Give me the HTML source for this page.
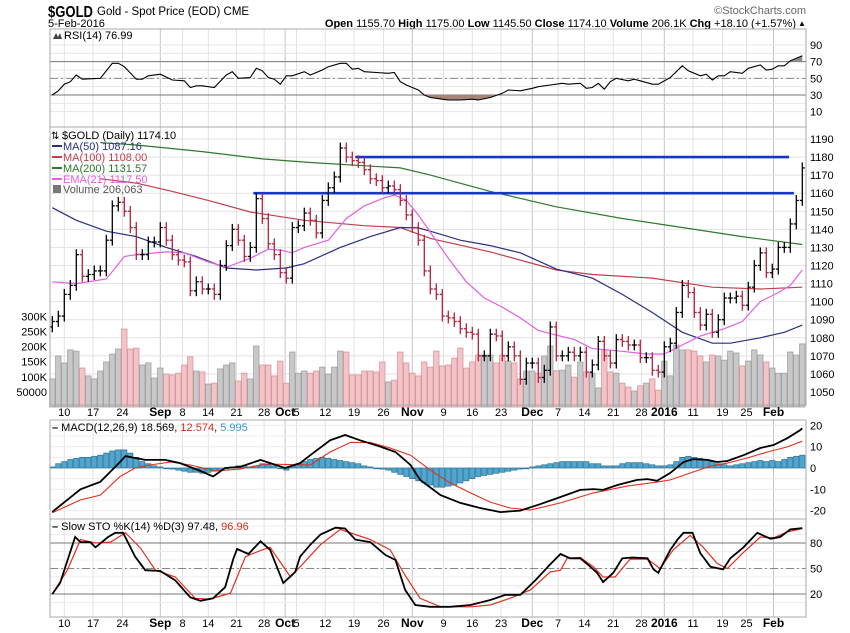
<!DOCTYPE html>
<html><head><meta charset="utf-8"><style>
body{margin:0;background:#fff;}
svg{display:block;font-family:"Liberation Sans",sans-serif;}
</style></head><body>
<svg id="chart" width="850" height="633" viewBox="0 0 850 633" xmlns="http://www.w3.org/2000/svg">
<text x="48" y="17" font-size="16" font-weight="bold" textLength="45" lengthAdjust="spacingAndGlyphs">$GOLD</text>
<text x="97" y="15" font-size="11.5">Gold - Spot Price (EOD)  CME</text>
<text x="48" y="27" font-size="11">5-Feb-2016</text>
<text x="806" y="14" font-size="11" fill="#666" text-anchor="end">©StockCharts.com</text>
<text x="796" y="27" font-size="11" text-anchor="end"><tspan font-weight="bold">Open</tspan> 1155.70 <tspan font-weight="bold">High</tspan> 1175.00 <tspan font-weight="bold">Low</tspan> 1145.50 <tspan font-weight="bold">Close</tspan> 1174.10 <tspan font-weight="bold">Volume</tspan> 206.1K <tspan font-weight="bold">Chg</tspan> +18.10 (+1.57%)</text>
<text x="798" y="26" font-size="8">▲</text>
<g id="g"></g>
</svg>
<script>
const closes=[1089,1092,1104,1109,1126,1114,1115,1117,1117,1134,1153,1155,1150,1141,1126,1126,1133,1133,1141,1134,1126,1123,1122,1106,1111,1107,1107,1104,1120,1131,1140,1134,1125,1130,1157,1146,1132,1126,1116,1113,1141,1142,1149,
1145,1138,1156,1163,1169,1185,1180,1178,1177,1173,1168,1167,1163,1164,1162,1156,1148,1141,1134,1117,1107,1104,1092,1091,1089,1085,1083,1082,1070,1070,1082,1081,1070,1075,1070,1057,1066,1066,1058,1062,1086,1070,
1070,1072,1070,1072,1061,1065,1078,1070,1066,1079,1078,1076,1076,1069,1069,1062,1061,1075,1077,1094,1109,1105,1094,1087,1093,1083,1090,1102,1102,1103,1098,1108,1120,1127,1116,1118,1130,1130,1143,1156,1174];
const volumes=[93,169,146,189,185,129,103,93,119,149,175,192,258,192,195,139,146,96,129,109,106,112,139,166,119,116,76,79,126,139,146,86,112,93,202,139,139,103,152,79,182,112,119,112,119,132,109,132,185,182,106,106,119,119,116,149,83,89,182,146,112,103,149,
132,185,136,139,162,195,129,149,172,172,172,146,172,152,146,93,119,119,112,169,202,120,
122,139,99,149,116,112,63,189,116,112,79,66,53,70,79,93,56,152,103,205,189,189,185,169,149,172,169,155,185,179,136,152,189,172,149,129,112,112,182,172,209];
const ma50Bars=[0,4,9,14,19,24,29,34,39,42,48,53,58,61,63,68,73,78,84,90,95,100,105,110,113,118,122,125];
const ma50Vals=[1152,1145,1139,1136,1130,1125,1118.6,1117.5,1118.6,1121,1130,1136,1141,1140.8,1139,1134,1131,1127,1118,1113,1104,1094,1083,1077,1077,1080,1083,1087];
const ma100Bars=[8,14,20,26,33,42,52,58,63,73,84,90,100,110,118,125];
const ma100Vals=[1168,1165.6,1161,1156,1149.6,1145,1142,1141,1135,1127.5,1117.5,1115,1113,1108,1107,1108];
const ma200Bars=[8,14,25,35,43,58,63,73,84,95,105,115,125];
const ma200Vals=[1188,1186.7,1183,1179,1177,1174,1170,1161,1152.5,1146,1141,1136,1131.6];
const emaBars=[0,4,9,12,14,19,22,26,29,33,36,38,40,42,46,49,52,55,57,59,61,63,66,69,72,75,78,81,84,87,90,95,99,102,105,108,112,115,118,121,123,125];
const emaVals=[1111,1110,1112.5,1125,1126,1127.5,1127,1122,1119,1124,1129,1128.5,1127,1130,1134,1146,1153,1157,1159,1156,1148,1138.5,1124,1111,1102,1097,1091,1084,1081.5,1079,1074,1072.5,1071,1071,1076,1081,1085,1089,1100,1105,1109,1117.5];
const resistLevels=[1180,1160];
const resistStart=[50.5,33.5];
const resistEnd=[122.8,123.6];
const rsiBars=[0,1,2,3,4,5,8,10,11,12,14,15,16,18,20,22,23,24,25,27,29,30,31,33,34,35,36,37,38,39,40,42,43,45,46,48,49,50,51,52,56,57,58,59,61,62,63,65,66,68,70,71,73,75,76,78,80,81,83,85,86,88,89,90,91,92,93,94,96,97,98,100,101,103,105,106,108,109,110,111,112,113,115,116,118,119,120,121,122,123,125];
const rsiVals=[30,35,43,46,54,49,50,68,68,64,49,49,53,55,48,47,39,41,41,39,54,58,50,51,62,59,51,49,43,53,53,58,54,60,64,68,68,61,62,58,56,57,46,42,36,30,27,25,24,24,25,24,27,32,36,35,38,40,42,44,43,44,38,39,44,37,46,50,47,49,47,43,43,51,65,59,53,55,48,53,53,58,56,62,66,60,61,65,65,71,77];
const macdBars=[0,4.7,8,10.8,12.2,13.8,15.5,18.8,21.3,24.7,26.8,28.8,31.3,34.7,38.8,41.3,43,46.3,48.8,51.3,54.7,57.2,59.7,61.3,64.7,68,71.3,74.7,78,81.3,84.7,88,90.2,91.8,94.2,97.5,99.2,100.8,103,105.2,106.8,109.2,110.8,112.5,115.2,118,120.2,122.5,124.5,125];
const macdVals=[-20.6,-10,-6.5,1.4,5.6,4.7,3.8,3.8,2.3,-1.4,-4,0,0.5,3.8,0,2.3,6,13,15.5,13,10,7.5,1.4,-5.6,-12.7,-16.4,-18.8,-20.7,-20,-17,-13.6,-10.3,-9.9,-10.3,-8,-5.6,-5.2,-6,-2.3,2.8,4.2,3.8,2.8,3.3,6,9.4,10.8,14,17.5,18.6];
const signalBars=[0,4.7,8,11.3,13.8,16.3,19.7,23,27.2,31.3,35.5,41.3,43,46.3,49.7,53,56.3,59.7,63,66.3,69.7,73,76.3,79.7,84.7,90.2,95.8,100.8,103,106.8,109.7,112.5,115.8,119.2,122.5,125];
const signalVals=[-21,-15,-12.7,-4,0,1.4,2.8,1.4,-1.4,-0.5,1.9,1.5,1.4,7.5,12,12,9.4,6,-1,-7,-11.7,-16,-18.8,-19.7,-16.4,-11.7,-8.5,-6.6,-5.6,-1.9,0.9,2.3,4.7,7.5,9.9,12.6];
const histVals=[0.5,2,3,4,4.5,5,5,5.5,6,7,8,8.5,8.5,7,5,3,2,1,0.5,0,-0.5,-1,-1.5,-2,-2,-2.5,-2,-1.5,-1,0,0.5,1,1,0.5,1,2,1.5,1,0,-1,1,2,3,4,4.5,5,4.5,4,3.5,3,2.5,2,1,0.5,0,-0.5,-1,-2,-3,-4,-5,-6,-7,-8,-9,-9,-8.5,-8,-7,-6,-5,-4,-3.5,-3,-2.5,-2,-1.5,-1,-0.5,0,0.5,1,1.5,2,2.5,3,3,3,3,3,2,2,1,1,1,2,2.5,2.5,2.5,2,1.5,1,1,1.5,3,5,5.5,5,4.5,4,3,2,1.5,1,1.5,2,2.5,3,3.5,3,3.5,3,4,5,5.5,6];
const kBars=[0,1.3,3.8,4.7,6.3,7.2,9.3,10.5,11.8,13.8,15.5,18,20.5,23,24.7,26.8,28.8,30.2,30.8,32.7,34.7,36.3,38.5,40.5,41.3,43,44.7,47.2,48.8,50.5,53,55.5,57.2,58.8,60.5,63,66.3,69.7,73,75.5,78,80.5,83,84.7,86.3,88,89.7,90.8,91.8,93.5,95,96.7,99.2,100.2,101,103,104.2,105.2,106.7,108,109.7,111.8,113,115.2,117.5,119.7,121.3,123,125];
const kVals=[20,33,87,81,81,75,87,92,92,64,48,47,36,16,12,15,28,62,73,67,82,72,33,46,64,78,90,98,97,84,81,66,60,25,7,5,5,7,13,19,19,36,55,67,62,62,52,45,34,45,62,63,62,49,45,72,84,92,92,68,52,49,62,75,92,85,87,96,97.5];
const dBars=[0,2.5,4.7,7.2,9.7,12.2,14.7,17.2,20.5,23.8,26.3,29.7,32.2,35,36.3,39.7,41.3,44.7,48,50.5,53,56.3,58.8,61.3,64.7,69.7,73,76.3,79.7,83,84.7,85.8,88,90.2,91.8,93.8,96.3,99.2,101.3,103.5,106.3,108.5,110.8,112.5,115.2,118,120.2,122.5,125];
const dVals=[20,48,84,80,81,92,74,48,40,15,14,21,64,72,75,40,52,78,96,90,84,72,42,15,5,5,7,15,25,46,48,62,63,52,40,40,61,61,50,72,89,75,56,50,69,87,86,93,97];
const dateLabels=["10","17","24","Sep","8","14","21","28","Oct","5","12","19","26","Nov","9","16","23","Dec","7","14","21","28","2016","11","19","25","Feb"];
const dateBars=[2,6.8,11.7,18,21.7,26,30.7,35.3,38.8,40.7,45.5,50.3,55.2,60,65.2,70,74.8,80,84.3,88.7,93.5,98.2,102,106.8,111.7,115.7,120.2];
const priceTicks=[1190,1180,1170,1160,1150,1140,1130,1120,1110,1100,1090,1080,1070,1060,1050];
const volTicks=[300,250,200,150,100,50];
const rsiTicks=[90,70,50,30,10];
const macdTicks=[20,10,0,-10,-20];
const stoTicks=[80,50,20];

const L=50,R=806;
const xb=i=>52.3+6*i;
const py=p=>139+(1190-p)*1.807;
const vy=v=>407-v*0.302;
const ry=v=>95-(v-30)*0.833;
const my=v=>468-v*2.13;
const sy=v=>594-(v-20)*0.85;
const NS="http://www.w3.org/2000/svg";
const G=document.getElementById('g');
function el(tag,attrs,parent){const e=document.createElementNS(NS,tag);for(const k in attrs)e.setAttribute(k,attrs[k]);(parent||G).appendChild(e);return e;}
function txt(s,attrs,parent){const e=el('text',attrs,parent);e.textContent=s;return e;}
function poly(bars,vals,fy){return bars.map((b,i)=>xb(b).toFixed(1)+','+fy(vals[i]).toFixed(1)).join(' ');}

const panels=[[29,127,'rsi-panel'],[127,405,'price-panel'],[420,519,'macd-panel'],[519,617,'sto-panel']];
dateBars.forEach((b,i)=>{
  const isMonth=isNaN(+dateLabels[i]) || dateLabels[i]==="2016";
  panels.forEach(p=>{
    const ln=el('line',{x1:xb(b),x2:xb(b),y1:p[0],y2:p[1],stroke:isMonth?'#c4c4c4':'#e2e2e2','stroke-width':1});
    
    
  });
});
for(let v=10;v<=90;v+=10){const ln=el('line',{x1:L,x2:R,y1:ry(v),y2:ry(v),stroke:'#e6e6e6'});}
priceTicks.forEach(p=>{const ln=el('line',{x1:L,x2:R,y1:py(p),y2:py(p),stroke:'#e2e2e2'});
  const t=txt(String(p),{x:810,y:py(p)+4,'font-size':11});});
for(let v=-20;v<=20;v+=5){const ln=el('line',{x1:L,x2:R,y1:my(v),y2:my(v),stroke:'#ececec'});}
macdTicks.forEach(v=>{const t=txt(String(v),{x:810,y:my(v)+4,'font-size':11});});
for(let v=10;v<=100;v+=10){const ln=el('line',{x1:L,x2:R,y1:sy(v),y2:sy(v),stroke:'#ececec'});}
stoTicks.forEach(v=>{const t=txt(String(v),{x:810,y:sy(v)+4,'font-size':11});
  const ln=el('line',{x1:L,x2:R,y1:sy(v),y2:sy(v),stroke:v===50?'#888':'#777','stroke-dasharray':v===50?'8,3,2,3':'none'});});
rsiTicks.forEach(v=>{const t=txt(String(v),{x:810,y:ry(v)+4,'font-size':11});
  if(v===70||v===30||v===50){const ln=el('line',{x1:L,x2:R,y1:ry(v),y2:ry(v),stroke:v===50?'#888':'#777','stroke-dasharray':v===50?'8,3,2,3':'none'});}});

closes.forEach((c,i)=>{
  const up=i===0||c>=closes[i-1];
  const r=el('rect',{x:xb(i)-2.7,y:vy(volumes[i]),width:5.4,height:407-vy(volumes[i]),fill:up?'#c8c8c8':'#f2c4c8',stroke:up?'#a0a0a0':'#d9959c','stroke-width':0.8});
  
  
});
volTicks.forEach(v=>{const t=txt(v===50?'50000':v+'K',{x:47,y:vy(v)+4,'font-size':11,'text-anchor':'end'});});

[[ma200Bars,ma200Vals,'#2d7a2d','ma200-line'],[ma100Bars,ma100Vals,'#c0404f','ma100-line'],[ma50Bars,ma50Vals,'#2a2f80','ma50-line'],[emaBars,emaVals,'#e35ee3','ema21-line']].forEach(m=>{
  const pl=el('polyline',{points:poly(m[0],m[1],py),fill:'none',stroke:m[2],'stroke-width':1.2});
  
  
});
resistLevels.forEach((lv,i)=>{
  const ln=el('line',{x1:xb(resistStart[i]),x2:xb(resistEnd[i]),y1:py(lv),y2:py(lv),stroke:'#1736cc','stroke-width':2.6});
  
  
});
closes.forEach((c,i)=>{
  const o=i===0?c-3:closes[i-1];
  const hi=Math.max(o,c)+3,lo=Math.min(o,c)-3;
  const col=(i===0||c>=closes[i-1])?'#000':'#b5213f';
  const g=el('g',{stroke:col,'stroke-width':1.3});
  
  
  const x=xb(i);
  el('line',{x1:x,x2:x,y1:py(hi),y2:py(lo)},g);
  el('line',{x1:x-2.5,x2:x,y1:py(o),y2:py(o)},g);
  el('line',{x1:x,x2:x+2.5,y1:py(c),y2:py(c)},g);
});

const defs=el('defs',{});
const cp1=el('clipPath',{id:'above70'},defs);el('rect',{x:L,y:29,width:R-L,height:ry(70)-29},cp1);
const cp2=el('clipPath',{id:'below30'},defs);el('rect',{x:L,y:ry(30),width:R-L,height:127-ry(30)},cp2);
const rp=poly(rsiBars,rsiVals,ry);
const f1=el('polygon',{points:xb(rsiBars[0])+','+ry(70)+' '+rp+' '+xb(rsiBars[rsiBars.length-1])+','+ry(70),fill:'#8a938a','clip-path':'url(#above70)'});

const f2=el('polygon',{points:xb(rsiBars[0])+','+ry(30)+' '+rp+' '+xb(rsiBars[rsiBars.length-1])+','+ry(30),fill:'#a88478','clip-path':'url(#below30)'});

const rl=el('polyline',{points:rp,fill:'none',stroke:'#000','stroke-width':1.1});


histVals.forEach((h,i)=>{
  const r=el('rect',{x:xb(i)-2.6,y:Math.min(my(0),my(h)),width:5.2,height:Math.max(0.8,Math.abs(my(h)-my(0))),fill:'#4fa6cf',stroke:'#2a6f94','stroke-width':0.7});
  
  
});
const sg=el('polyline',{points:poly(signalBars,signalVals,my),fill:'none',stroke:'#e0301e','stroke-width':1.1});

const ml=el('polyline',{points:poly(macdBars,macdVals,my),fill:'none',stroke:'#000','stroke-width':1.8});

const dl=el('polyline',{points:poly(dBars,dVals,sy),fill:'none',stroke:'#e0301e','stroke-width':1.2});

const kl=el('polyline',{points:poly(kBars,kVals,sy),fill:'none',stroke:'#000','stroke-width':1.8});


panels.forEach(p=>{const r=el('rect',{x:L,y:p[0],width:R-L,height:p[1]-p[0],fill:'none',stroke:'#a8a8a8'});});
[[416,'date-axis-label'],[627,'bottom-date-axis-label']].forEach(a=>{
  dateLabels.forEach((s,i)=>{const bold=isNaN(+s)||s==="2016";
    const t=txt(s,{x:xb(dateBars[i]),y:a[0],'font-size':bold?12:11,'font-weight':bold?'bold':'normal','text-anchor':'middle'});
    });
});

const lg=[
 ['$GOLD (Daily) 1174.10','#000','price-legend-title',139],
 ['MA(50) 1087.16','#2a2f80','legend-ma50',150],
 ['MA(100) 1108.00','#c0404f','legend-ma100',161],
 ['MA(200) 1131.57','#2d7a2d','legend-ma200',172],
 ['EMA(21) 1117.50','#e35ee3','legend-ema21',183],
 ['Volume 206,063','#555','legend-volume',193]];
lg.forEach((l,i)=>{
  const g=el('g',{});
  if(i>0&&i<5)el('line',{x1:52,x2:62,y1:l[3]-4,y2:l[3]-4,stroke:l[1],'stroke-width':2},g);
  else if(i===0)txt('⇅',{x:51,y:l[3],'font-size':10},g);
  else el('rect',{x:53,y:l[3]-8,width:8,height:8,fill:'#777'},g);
  txt(l[0],{x:i===0?62:63,y:l[3],'font-size':11,fill:l[1]},g);
});
const rt=txt('RSI(14) 76.99',{x:64,y:39,'font-size':11});
const ri=el('polygon',{points:'53,39 56,33 58,37 60,33 62,39',fill:'#444'});
const mt=el('text',{x:52,y:431,'font-size':11});
mt.innerHTML='<tspan font-weight="bold">–</tspan> MACD(12,26,9) 18.569, <tspan fill="#d0301e">12.574</tspan>, <tspan fill="#3a9ac4">5.995</tspan>';
const st=el('text',{x:52,y:530,'font-size':11});
st.innerHTML='<tspan font-weight="bold">–</tspan> Slow STO %K(14) %D(3) 97.48, <tspan fill="#d0301e">96.96</tspan>';
</script>
</body></html>
